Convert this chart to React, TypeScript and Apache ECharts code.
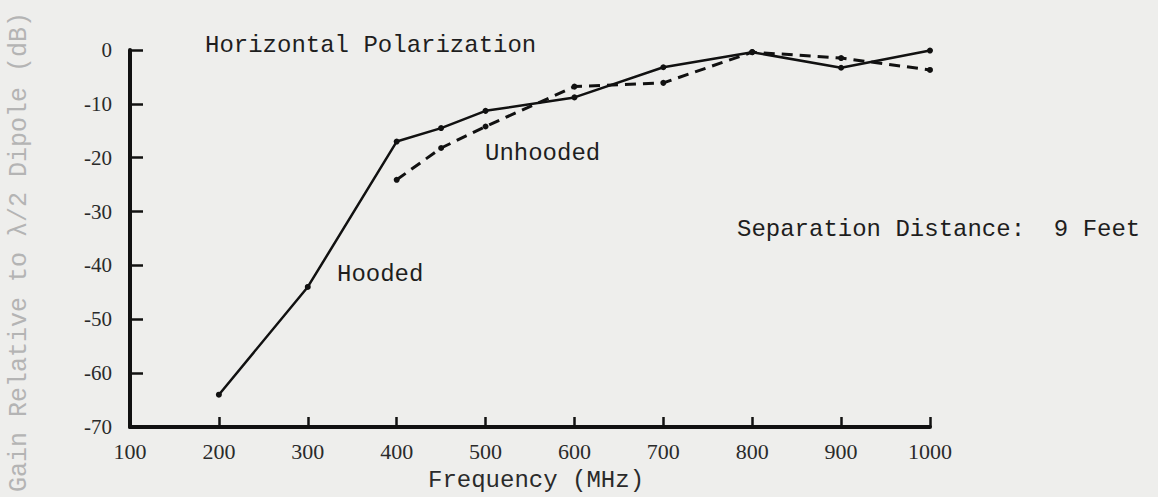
import React, { useEffect, useRef } from "react";
import * as echarts from "echarts";

const frequencies = [200, 300, 400, 450, 500, 600, 700, 800, 900, 1000];
const hooded = [-64, -44, -17, -14.5, -11.3, -8.8, -3.2, -0.4, -3.3, -0.1];
const unhoodedFreq = [400, 450, 500, 600, 700, 800, 900, 1000];
const unhooded = [-24.1, -18.2, -14.2, -6.8, -6.1, -0.4, -1.5, -3.7];

const xTicks = [100, 200, 300, 400, 500, 600, 700, 800, 900, 1000];
const yTicks = [-70, -60, -50, -40, -30, -20, -10, 0];

const titleText = "Horizontal Polarization";
const hoodedLabel = "Hooded";
const unhoodedLabel = "Unhooded";
const noteText = "Separation Distance:  9 Feet";
const xName = "Frequency (MHz)";
const yName = "Gain Relative to \u03bb/2 Dipole (dB)";

const MONO = "'Liberation Mono', 'DejaVu Sans Mono', monospace";
const SERIF = "'Liberation Serif', 'DejaVu Serif', serif";

export default function App() {
  const ref = useRef<HTMLDivElement>(null);
  useEffect(() => {
    if (!ref.current) return;
    const chart = echarts.init(ref.current, undefined, { renderer: "svg" });
    const hoodedData = frequencies.map((f, i) => [f, hooded[i]]);
    const unhoodedData = unhoodedFreq.map((f, i) => [f, unhooded[i]]);
    chart.setOption({
      animation: false,
      backgroundColor: "#eeeeec",
      grid: { left: 130, right: 228, top: 50, bottom: 70 },
      xAxis: {
        type: "value",
        min: xTicks[0],
        max: xTicks[xTicks.length - 1],
        interval: 100,
        splitLine: { show: false },
        axisLine: { show: true, onZero: false, lineStyle: { color: "#111", width: 4 } },
        axisTick: { show: true, inside: true, length: 10, lineStyle: { color: "#111", width: 2.5 } },
        axisLabel: {
          margin: 13,
          color: "#2a2a2a",
          fontFamily: SERIF,
          fontSize: 22,
          showMinLabel: true,
          showMaxLabel: true,
          formatter: (v: number) => String(v),
        },
      },
      yAxis: {
        type: "value",
        min: yTicks[0],
        max: yTicks[yTicks.length - 1],
        interval: 10,
        splitLine: { show: false },
        axisLine: { show: true, onZero: false, lineStyle: { color: "#111", width: 4 } },
        axisTick: { show: true, inside: true, length: 13, lineStyle: { color: "#111", width: 2.5 } },
        axisLabel: {
          margin: 18,
          color: "#2a2a2a",
          fontFamily: SERIF,
          fontSize: 21,
          formatter: (v: number) => String(v),
        },
      },
      series: [
        {
          name: hoodedLabel,
          type: "line",
          data: hoodedData,
          symbol: "circle",
          symbolSize: 6,
          itemStyle: { color: "#111" },
          lineStyle: { color: "#111", width: 2.5, type: "solid" },
        },
        {
          name: unhoodedLabel,
          type: "line",
          data: unhoodedData,
          symbol: "circle",
          symbolSize: 6,
          itemStyle: { color: "#111" },
          lineStyle: { color: "#111", width: 3, type: [11, 7] },
        },
      ],
      graphic: [
        {
          type: "text",
          left: 205,
          top: 33,
          style: { text: titleText, font: `24px ${MONO}`, fill: "#1e1e1e" },
        },
        {
          type: "text",
          left: 337,
          top: 262,
          style: { text: hoodedLabel, font: `24px ${MONO}`, fill: "#1e1e1e" },
        },
        {
          type: "text",
          left: 485,
          top: 141,
          style: { text: unhoodedLabel, font: `24px ${MONO}`, fill: "#1e1e1e" },
        },
        {
          type: "text",
          left: 737,
          top: 217,
          style: { text: noteText, font: `24px ${MONO}`, fill: "#1e1e1e" },
        },
        {
          type: "text",
          left: 428,
          top: 468,
          style: { text: xName, font: `24px ${MONO}`, fill: "#2a2a2a" },
        },
        {
          type: "text",
          x: 19,
          y: 252,
          rotation: Math.PI / 2,
          style: {
            text: yName,
            font: `25px ${MONO}`,
            fill: "#b4b4b4",
            align: "center",
            verticalAlign: "middle",
          },
        },
      ],
    });
    return () => chart.dispose();
  }, []);
  return (
    <div
      ref={ref}
      style={{ position: "fixed", left: 0, top: 0, width: 1158, height: 497 }}
    />
  );
}
